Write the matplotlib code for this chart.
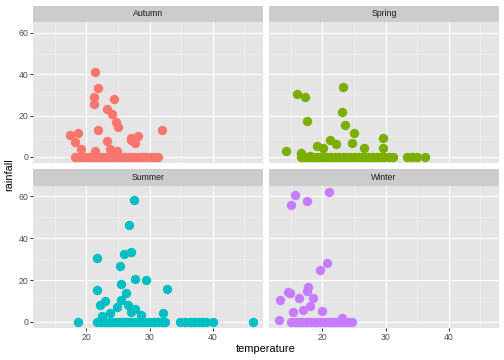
import matplotlib.pyplot as plt
from matplotlib.patches import Rectangle

plt.rcParams['font.family'] = ['Liberation Sans', 'DejaVu Sans']

seasons = ['Autumn', 'Spring', 'Summer', 'Winter']
colors = ['#F8766D', '#7CAE00', '#00BFC4', '#C77CFF']

autumn_temp = [21.3, 21.9, 21.2, 21.2, 24.3, 23.2, 24.0, 24.7, 25.0, 21.9, 31.9,
               17.4, 18.6, 18.2, 23.2, 27.1, 28.2, 27.0, 27.7, 19.1, 21.3, 23.7, 24.9,
               18.2, 18.8, 19.3, 19.8, 20.3, 20.8, 21.2, 21.7, 22.2, 22.6, 23.1, 23.5,
               24.0, 24.4, 24.9, 25.3, 25.8, 26.2, 26.7, 27.2, 27.6, 28.1, 28.6, 29.0,
               29.4, 30.2, 30.8, 31.4]
autumn_rain = [41.1, 33.1, 28.9, 25.6, 28.1, 23.1, 20.8, 16.9, 14.4, 12.9, 13.2,
               10.5, 11.5, 7.3, 7.7, 8.9, 10.2, 8.1, 6.9, 3.7, 2.9, 4.0, 2.9,
               0, 0, 0, 0, 0, 0, 0, 0, 0, 0, 0, 0,
               0, 0, 0, 0, 0, 0, 0, 0, 0, 0, 0, 0,
               0, 0, 0, 0]

spring_temp = [14.3, 16.0, 17.2, 23.3, 17.6, 23.1, 23.6, 25.0, 24.7, 21.2, 22.2,
               29.6, 29.6, 26.6, 19.2, 20.1, 16.6, 18.0,
               16.6, 17.2, 17.8, 18.4, 19.0, 19.6, 20.2, 20.8, 21.4, 22.0, 22.6, 23.2,
               23.8, 24.4, 25.0, 25.6, 26.2, 26.8, 27.4, 28.0, 28.6, 29.2, 29.8, 30.5,
               31.2, 33.4, 34.2, 35.0, 36.3]
spring_rain = [2.9, 30.5, 29.0, 34.0, 17.6, 21.8, 15.6, 11.6, 6.9, 8.2, 6.0,
               9.0, 4.2, 4.2, 5.2, 4.2, 1.9, 0.5,
               0, 0, 0, 0, 0, 0, 0, 0, 0, 0, 0, 0,
               0, 0, 0, 0, 0, 0, 0, 0, 0, 0, 0, 0,
               0, 0, 0, 0, 0]

summer_temp = [27.6, 26.7, 27.0, 26.0, 21.7, 25.3, 27.7, 29.5, 25.5, 21.7, 32.8,
               26.3, 25.5, 22.9, 22.1, 26.6, 24.8, 27.7, 23.7, 27.0, 22.4, 28.6, 32.2,
               18.7,
               21.7, 22.3, 22.9, 23.5, 24.1, 24.7, 25.3, 25.9, 26.5, 27.1, 27.7, 28.3,
               28.9, 29.5, 30.1, 30.7, 31.3, 31.9, 32.5,
               34.8, 35.6, 36.4, 37.0, 37.6, 38.3, 39.0, 40.0, 46.3]
summer_rain = [58.2, 46.5, 33.2, 32.4, 30.3, 26.6, 20.5, 19.8, 17.9, 15.3, 15.8,
               13.9, 10.5, 9.9, 8.1, 8.2, 7.1, 6.3, 4.4, 4.5, 2.7, 3.4, 4.0,
               0,
               0, 0, 0, 0, 0, 0, 0, 0, 0, 0, 0, 0,
               0, 0, 0, 0, 0, 0, 0,
               0, 0, 0, 0, 0, 0, 0, 0, 0]

winter_temp = [21.0, 15.7, 17.6, 15.0, 20.8, 19.7, 17.8, 14.6, 14.8, 17.5, 13.3,
               16.3, 18.5, 18.0, 17.0, 15.4, 20.0, 13.1, 23.1,
               15.0, 15.6, 16.2, 16.8, 17.4, 18.0, 18.6, 19.2, 19.8, 20.4, 21.0, 21.6,
               22.2, 22.8, 23.4, 24.0, 24.7]
winter_rain = [62.2, 60.8, 57.9, 55.7, 28.2, 24.7, 16.7, 14.4, 13.6, 14.6, 10.6,
               11.2, 11.4, 7.4, 5.5, 4.8, 5.0, 1.1, 1.6,
               0, 0, 0, 0, 0, 0, 0, 0, 0, 0, 0, 0,
               0, 0, 0, 0, 0]

temps = [autumn_temp, spring_temp, summer_temp, winter_temp]
rains = [autumn_rain, spring_rain, summer_rain, winter_rain]

W, H = 504, 360
fig = plt.figure(figsize=(W / 72, H / 72), dpi=72)

cols = [(33, 263), (269, 499)]
rows = [(22.3, 163.3), (185.7, 328.3)]
strip_h = 16.8

for i, season in enumerate(seasons):
    r, c = divmod(i, 2)
    x0, x1 = cols[c]
    y0, y1 = rows[r]
    ax = fig.add_axes([x0 / W, 1 - y1 / H, (x1 - x0) / W, (y1 - y0) / H])
    ax.set_facecolor('#E5E5E5')
    for s in ax.spines.values():
        s.set_visible(False)
    ax.set_xlim(11.55, 47.95)
    ax.set_ylim(-3.1, 65.1)
    ax.set_xticks([20, 30, 40])
    ax.set_yticks([0, 20, 40, 60])
    ax.set_xticks([15, 25, 35, 45], minor=True)
    ax.set_yticks([10, 30, 50], minor=True)
    ax.grid(True, which='major', color='white', linewidth=1.1)
    ax.grid(True, which='minor', color='#F2F2F2', linewidth=0.55)
    ax.set_axisbelow(True)
    ax.tick_params(which='minor', length=0)
    ax.tick_params(which='major', length=2.75, width=1.0, color='#333333',
                   labelsize=8.8, labelcolor='#4D4D4D', pad=2)
    if r == 0:
        ax.tick_params(axis='x', length=0, labelbottom=False)
    if c == 1:
        ax.tick_params(axis='y', length=0, labelleft=False)
    ax.scatter(temps[i], rains[i], s=88, color=colors[i], linewidths=0, zorder=3)

    ax.add_patch(Rectangle((0, 1), 1, strip_h / (y1 - y0), transform=ax.transAxes,
                           facecolor='#CCCCCC', edgecolor='none', clip_on=False))
    ax.text(0.5, 1 + strip_h / (y1 - y0) / 2, season, transform=ax.transAxes,
            ha='center', va='center', fontsize=8.8, color='#1A1A1A')

fig.text(266 / W, 1 - 349 / H, 'temperature', ha='center', va='center', fontsize=11)
fig.text(9 / W, 1 - 175 / H, 'rainfall', ha='center', va='center', fontsize=11,
         rotation=90)

fig.savefig('out.png', dpi=72, facecolor='white')
